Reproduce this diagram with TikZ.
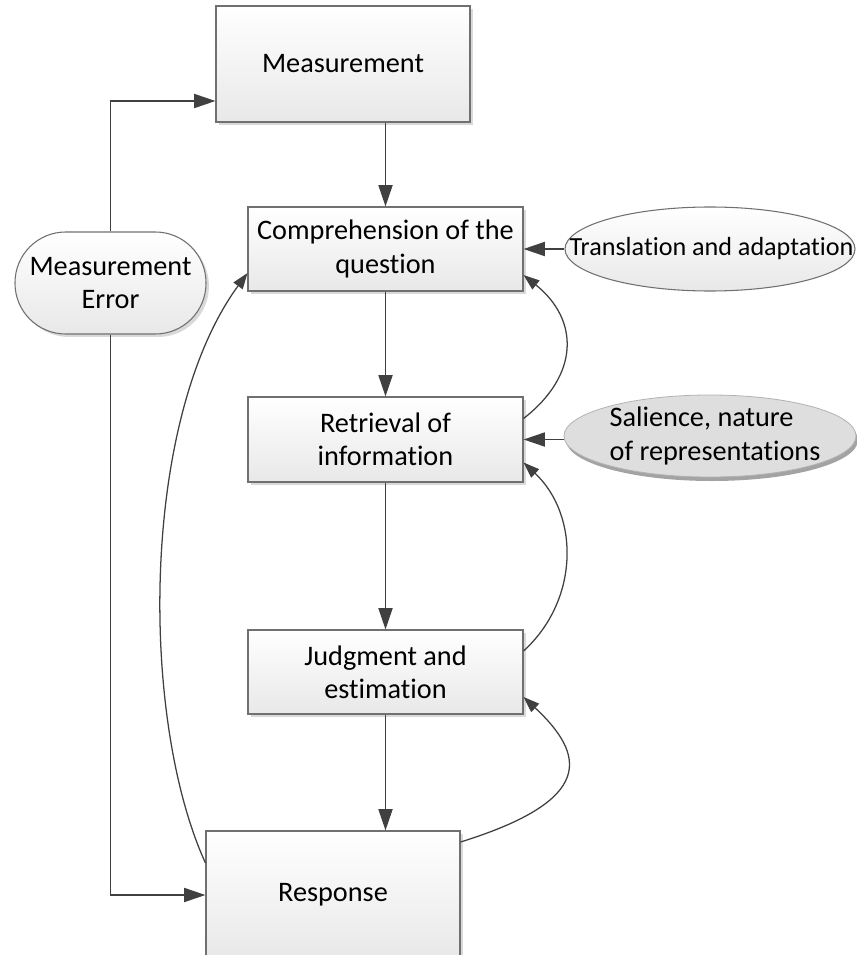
\documentclass[tikz,border=0pt]{standalone}
\usepackage{fontspec}
\setmainfont{Carlito}[Ligatures=NoCommon]
\usetikzlibrary{arrows.meta,shapes.geometric,shadows,calc}
\definecolor{ln}{HTML}{404040}
\definecolor{bd}{HTML}{707070}
\begin{document}
\begin{tikzpicture}[x=0.75pt,y=-0.75pt,
  every node/.style={font=\fontsize{21.2pt}{25pt}\selectfont, text=black},
  boxst/.style={rectangle, draw=bd, line width=0.8pt, top color=white, bottom color=black!9,
    inner sep=2pt, align=center,
    drop shadow={shadow xshift=2.2pt, shadow yshift=-2.2pt, fill=black!25, opacity=0.6}},
  errst/.style={boxst, rounded corners=38pt},
  ellst/.style={ellipse, draw=bd, line width=0.8pt, top color=white, bottom color=black!9, inner sep=0pt},
  salst/.style={ellipse, draw=black!30, line width=0.6pt, fill=black!13, inner sep=0pt,
    drop shadow={shadow xshift=1.5pt, shadow yshift=-3pt, fill=black!45, opacity=0.8}},
  arr/.style={draw=ln, line width=1.35pt, -{Triangle[length=16pt,width=10.5pt]}},
  carr/.style={draw=ln, line width=0.95pt, -{Triangle[length=12pt,width=8.5pt]}}
]
\useasboundingbox (0,0) rectangle (856,955);

% nodes
\node[boxst, minimum width=190.5pt, minimum height=87pt] (meas) at (343,64) {Measurement};
\node[boxst, minimum width=206.25pt, minimum height=63pt] (comp) at (385.5,249) {Comprehension of the\\question};
\node[boxst, minimum width=206.25pt, minimum height=63.75pt] (retr) at (385.5,439.5) {Retrieval of\\information};
\node[boxst, minimum width=206.25pt, minimum height=63pt] (judg) at (385.5,672) {Judgment and\\estimation};
\node[boxst, minimum width=190.5pt, minimum height=96pt] (resp) at (333,895) {Response};
\node[errst, minimum width=143.25pt, minimum height=76.5pt] (err) at (110.5,283) {Measurement\\Error};
\node[ellst, minimum width=217.5pt, minimum height=63pt] (trans) at (710,249) {};
\node[font=\fontsize{19.6pt}{24pt}\selectfont] (transt) at (711.5,249) {Translation and adaptation};
\node[salst, minimum width=219pt, minimum height=61.5pt] (sal) at (710,436) {};
\node[align=left] (salt) at (715,436) {Salience, nature\\of representations};

% straight connectors
\draw[arr] (meas.south -| comp.north) -- (comp.north);
\draw[arr] (comp.south) -- (retr.north);
\draw[arr] (retr.south) -- (judg.north);
\draw[arr] (judg.south) -- (judg.south |- resp.north);
\draw[arr] (err.north) |- ($(meas.west)+(0,37)$);
\draw[arr] (err.south) |- (resp.west);
\draw[arr] (trans.west) -- (comp.east);
\draw[arr] (sal.west |- retr.east) -- (retr.east);

% curved feedback connectors
\draw[carr] ($(retr.east)+(0,-21)$) .. controls ($(retr.east)+(56,-64.5)$) and ($(comp.east)+(56,71)$) .. ($(comp.east)+(0,26)$);
\draw[carr] ($(judg.east)+(0,-21)$) .. controls ($(judg.east)+(56,-72)$) and ($(retr.east)+(56,75.5)$) .. ($(retr.east)+(0,23)$);
\draw[carr] ($(resp.east)+(0,-53)$) .. controls ($(resp.east)+(135,-95)$) and ($(judg.east)+(62,83)$) .. ($(judg.east)+(0,25)$);
\draw[carr] ($(resp.west)+(0,-32)$) .. controls (140,720) and (140,420) .. ($(comp.west)+(0,24)$);
\end{tikzpicture}
\end{document}
